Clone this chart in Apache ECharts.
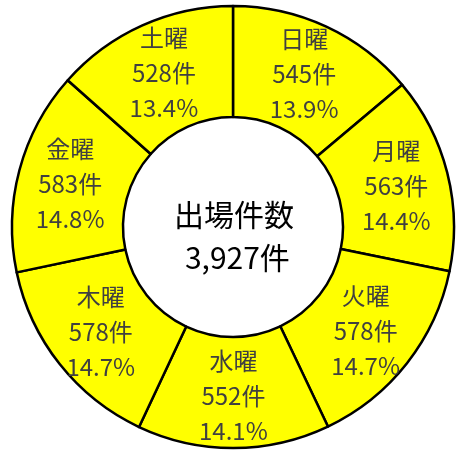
<!DOCTYPE html>
<html><head><meta charset="utf-8">
<script src="https://cdn.jsdelivr.net/npm/echarts@6/dist/echarts.min.js"></script>
<style>html,body{margin:0;padding:0;background:#fff}#c{width:456px;height:450px}</style>
</head><body><div id="c"></div>
<script>
const categories = ['日曜','月曜','火曜','水曜','木曜','金曜','土曜'];
const counts = [545, 563, 578, 552, 578, 583, 528];
const percents = ['13.9', '14.4', '14.7', '14.1', '14.7', '14.8', '13.4'];
const centerTitle = '出場件数';
const totalLabel = '3,927';
const unit = '件';

const data = categories.map((n,i)=>({name:n, value:counts[i], pct:percents[i]}));
const chart = echarts.init(document.getElementById('c'));
chart.setOption({
  animation:false,
  series:[{
    type:'pie',
    center:[233,227],
    radius:[110,221],
    startAngle:90,
    clockwise:true,
    silent:true,
    itemStyle:{color:'#ffff00', borderColor:'#000', borderWidth:2.5},
    label:{
      show:true, position:'inside',
      fontFamily:'"Noto Sans CJK JP"', fontSize:24, lineHeight:35, color:'#404040',
      formatter:p=>p.name+'\n'+p.value+unit+'\n'+p.data.pct+'%'
    },
    labelLine:{show:false},
    data:data
  }],
  graphic:[{
    type:'text', x:234, y:236,
    style:{
      text:centerTitle+'\n '+totalLabel+unit,
      fontFamily:'"Noto Sans CJK JP"', fontSize:30, lineHeight:43, fill:'#000',
      textAlign:'center', textVerticalAlign:'middle'
    }
  }]
});
</script></body></html>
